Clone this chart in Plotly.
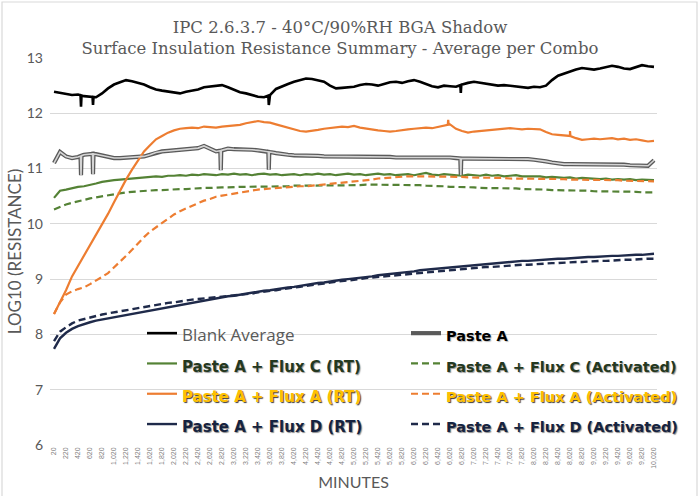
import numpy as np
import plotly.graph_objects as go

# ---------------- data ----------------
minutes = list(range(20, 10021, 100))
x_tick_minutes = list(range(20, 10021, 200))
x_tick_labels = [f"{m:,}" for m in x_tick_minutes]

blank_average = [
    12.39, 12.37, 12.36, 12.33, 12.34, 12.31, 12.30, 12.29, 12.36, 12.45,
    12.52, 12.56, 12.60, 12.58, 12.55, 12.52, 12.47, 12.43, 12.41, 12.39,
    12.37, 12.36, 12.39, 12.41, 12.43, 12.47, 12.48, 12.50, 12.51, 12.47,
    12.42, 12.38, 12.36, 12.33, 12.30, 12.29, 12.33, 12.44, 12.49, 12.53,
    12.57, 12.60, 12.63, 12.62, 12.60, 12.57, 12.50, 12.45, 12.46, 12.47,
    12.48, 12.51, 12.53, 12.52, 12.50, 12.53, 12.56, 12.57, 12.55, 12.58,
    12.60, 12.57, 12.53, 12.49, 12.47, 12.50, 12.49, 12.48, 12.52, 12.55,
    12.57, 12.55, 12.53, 12.52, 12.50, 12.51, 12.50, 12.48, 12.47, 12.46,
    12.48, 12.47, 12.50, 12.60, 12.68, 12.72, 12.76, 12.79, 12.82, 12.80,
    12.79, 12.81, 12.83, 12.86, 12.84, 12.81, 12.80, 12.84, 12.87, 12.85,
    12.84]
blank_spike_minutes = [470, 670, 3600, 6800]
blank_spike_values = [12.12, 12.15, 12.15, 12.37]

paste_a = [
    11.10, 11.30, 11.22, 11.19, 11.21, 11.25, 11.27, 11.26, 11.24, 11.21,
    11.19, 11.19, 11.20, 11.20, 11.21, 11.22, 11.25, 11.29, 11.31, 11.32,
    11.33, 11.33, 11.34, 11.35, 11.37, 11.41, 11.36, 11.31, 11.33, 11.36,
    11.35, 11.35, 11.35, 11.34, 11.33, 11.31, 11.30, 11.28, 11.26, 11.25,
    11.24, 11.24, 11.23, 11.23, 11.23, 11.22, 11.22, 11.22, 11.22, 11.22,
    11.22, 11.22, 11.21, 11.21, 11.21, 11.21, 11.21, 11.20, 11.20, 11.20,
    11.20, 11.20, 11.20, 11.20, 11.20, 11.21, 11.20, 11.19, 11.18, 11.18,
    11.18, 11.18, 11.18, 11.18, 11.17, 11.17, 11.17, 11.17, 11.17, 11.17,
    11.16, 11.15, 11.13, 11.11, 11.09, 11.08, 11.08, 11.08, 11.08, 11.07,
    11.07, 11.07, 11.07, 11.07, 11.07, 11.07, 11.06, 11.06, 11.06, 11.05,
    11.15]
paste_a_spike_minutes = [470, 670, 2800, 3600, 6800]
paste_a_spike_values = [10.88, 10.90, 10.97, 10.98, 10.88]

flux_c_rt = [
    10.47, 10.60, 10.62, 10.65, 10.67, 10.68, 10.70, 10.73, 10.76, 10.78,
    10.79, 10.80, 10.81, 10.83, 10.84, 10.85, 10.85, 10.86, 10.85, 10.87,
    10.87, 10.88, 10.87, 10.89, 10.88, 10.90, 10.89, 10.88, 10.90, 10.89,
    10.91, 10.89, 10.90, 10.88, 10.90, 10.91, 10.89, 10.90, 10.88, 10.89,
    10.90, 10.88, 10.90, 10.89, 10.91, 10.89, 10.90, 10.88, 10.90, 10.91,
    10.89, 10.90, 10.88, 10.89, 10.91, 10.89, 10.90, 10.88, 10.89, 10.90,
    10.88, 10.90, 10.92, 10.89, 10.88, 10.90, 10.89, 10.88, 10.87, 10.89,
    10.88, 10.87, 10.89, 10.87, 10.88, 10.86, 10.87, 10.88, 10.86, 10.86,
    10.85, 10.86, 10.84, 10.85, 10.84, 10.83, 10.84, 10.82, 10.83, 10.82,
    10.82, 10.81, 10.82, 10.80, 10.81, 10.80, 10.81, 10.79, 10.80, 10.79,
    10.79]

flux_c_act = [
    10.26, 10.31, 10.35, 10.38, 10.41, 10.43, 10.46, 10.48, 10.50, 10.52,
    10.53, 10.55, 10.57, 10.58, 10.59, 10.60, 10.60, 10.61, 10.61, 10.62,
    10.62, 10.63, 10.63, 10.64, 10.64, 10.65, 10.65, 10.66, 10.66, 10.66,
    10.67, 10.67, 10.67, 10.67, 10.68, 10.68, 10.68, 10.68, 10.68, 10.68,
    10.69, 10.69, 10.69, 10.69, 10.69, 10.69, 10.70, 10.70, 10.70, 10.70,
    10.70, 10.70, 10.71, 10.71, 10.71, 10.71, 10.70, 10.70, 10.70, 10.70,
    10.70, 10.70, 10.69, 10.69, 10.68, 10.68, 10.67, 10.67, 10.66, 10.66,
    10.66, 10.65, 10.65, 10.65, 10.64, 10.64, 10.64, 10.64, 10.63, 10.63,
    10.63, 10.62, 10.62, 10.61, 10.61, 10.61, 10.60, 10.60, 10.60, 10.60,
    10.59, 10.59, 10.59, 10.59, 10.58, 10.58, 10.58, 10.58, 10.57, 10.57,
    10.57]

flux_a_rt = [
    8.37, 8.58, 8.80, 9.05, 9.24, 9.41, 9.62, 9.80, 9.98, 10.18,
    10.39, 10.60, 10.80, 10.98, 11.15, 11.31, 11.42, 11.53, 11.59, 11.65,
    11.69, 11.72, 11.73, 11.74, 11.73, 11.76, 11.75, 11.74, 11.76, 11.77,
    11.78, 11.79, 11.82, 11.84, 11.86, 11.84, 11.83, 11.80, 11.77, 11.73,
    11.70, 11.68, 11.67, 11.68, 11.70, 11.72, 11.73, 11.74, 11.76, 11.75,
    11.77, 11.74, 11.72, 11.70, 11.69, 11.68, 11.67, 11.68, 11.70, 11.71,
    11.72, 11.73, 11.74, 11.73, 11.75, 11.78, 11.80, 11.72, 11.68, 11.65,
    11.67, 11.68, 11.69, 11.69, 11.70, 11.72, 11.73, 11.72, 11.71, 11.72,
    11.72, 11.71, 11.66, 11.62, 11.61, 11.60, 11.59, 11.55, 11.52, 11.53,
    11.54, 11.53, 11.54, 11.55, 11.53, 11.54, 11.52, 11.53, 11.51, 11.49,
    11.50]
flux_a_rt_spike_minutes = [6590, 8620]
flux_a_rt_spike_values = [11.88, 11.68]

flux_a_act = [
    8.37, 8.58, 8.72, 8.78, 8.82, 8.85, 8.91, 8.97, 9.04, 9.11,
    9.21, 9.31, 9.42, 9.53, 9.65, 9.76, 9.86, 9.94, 10.01, 10.10,
    10.17, 10.23, 10.28, 10.33, 10.37, 10.42, 10.45, 10.49, 10.51, 10.53,
    10.55, 10.57, 10.59, 10.61, 10.62, 10.63, 10.64, 10.65, 10.66, 10.66,
    10.67, 10.68, 10.68, 10.69, 10.70, 10.71, 10.72, 10.73, 10.74, 10.75,
    10.76, 10.78, 10.79, 10.80, 10.82, 10.83, 10.84, 10.85, 10.86, 10.86,
    10.86, 10.86, 10.86, 10.86, 10.86, 10.85, 10.85, 10.85, 10.85, 10.84,
    10.84, 10.84, 10.84, 10.83, 10.83, 10.83, 10.82, 10.82, 10.82, 10.82,
    10.82, 10.82, 10.81, 10.81, 10.81, 10.81, 10.80, 10.80, 10.80, 10.80,
    10.80, 10.79, 10.79, 10.79, 10.79, 10.78, 10.78, 10.78, 10.78, 10.77,
    10.77]

flux_d_rt = [
    7.74, 7.93, 8.03, 8.10, 8.15, 8.19, 8.22, 8.25, 8.27, 8.30,
    8.32, 8.34, 8.36, 8.38, 8.40, 8.42, 8.44, 8.46, 8.48, 8.50,
    8.52, 8.54, 8.56, 8.58, 8.60, 8.62, 8.64, 8.65, 8.67, 8.69,
    8.70, 8.72, 8.74, 8.75, 8.77, 8.79, 8.80, 8.82, 8.83, 8.85,
    8.86, 8.88, 8.89, 8.91, 8.93, 8.94, 8.96, 8.97, 8.99, 9.00,
    9.01, 9.03, 9.04, 9.05, 9.07, 9.08, 9.09, 9.10, 9.12, 9.13,
    9.14, 9.16, 9.17, 9.18, 9.19, 9.21, 9.22, 9.23, 9.24, 9.25,
    9.26, 9.27, 9.28, 9.29, 9.30, 9.31, 9.31, 9.32, 9.33, 9.33,
    9.34, 9.35, 9.35, 9.36, 9.37, 9.37, 9.38, 9.39, 9.39, 9.40,
    9.40, 9.41, 9.41, 9.42, 9.42, 9.43, 9.43, 9.44, 9.44, 9.45,
    9.46]

flux_d_act = [
    7.88, 8.05, 8.13, 8.20, 8.25, 8.28, 8.31, 8.33, 8.36, 8.38,
    8.40, 8.42, 8.44, 8.46, 8.47, 8.49, 8.51, 8.53, 8.55, 8.57,
    8.58, 8.60, 8.62, 8.63, 8.64, 8.65, 8.66, 8.67, 8.68, 8.69,
    8.70, 8.71, 8.73, 8.74, 8.76, 8.77, 8.79, 8.80, 8.82, 8.83,
    8.85, 8.86, 8.88, 8.89, 8.91, 8.92, 8.94, 8.95, 8.96, 8.98,
    8.99, 9.00, 9.02, 9.03, 9.04, 9.05, 9.07, 9.08, 9.09, 9.10,
    9.11, 9.12, 9.13, 9.14, 9.15, 9.16, 9.17, 9.18, 9.19, 9.19,
    9.20, 9.21, 9.22, 9.22, 9.23, 9.24, 9.24, 9.25, 9.26, 9.26,
    9.27, 9.27, 9.28, 9.29, 9.29, 9.30, 9.30, 9.31, 9.31, 9.32,
    9.32, 9.33, 9.33, 9.34, 9.34, 9.35, 9.35, 9.36, 9.36, 9.37,
    9.37]


def with_spikes(xs, ys, spike_x, spike_y, half=8):
    xs = np.asarray(xs, float)
    ys = np.asarray(ys, float)
    px, py = list(xs), list(ys)
    for t, v in zip(spike_x, spike_y):
        for tt in (t - half, t + half):
            px.append(tt)
            py.append(float(np.interp(tt, xs, ys)))
        px.append(t)
        py.append(v)
    order = np.argsort(px, kind="stable")
    return np.asarray(px)[order], np.asarray(py)[order]


# ---------------- figure ----------------
W, H = 700, 496
ML, MR, MT, MB = 50, 43, 58, 51

GRAY = "#595959"
C_GREEN = "#548235"
C_ORANGE = "#ED7D31"
C_NAVY = "#1F2A4A"


def lbl(text, color, shadow="#8a8a8a", bold=True, size=14.5, family="DejaVu Sans"):
    style = f"font-size:{size}px;color:{color};font-family:{family};"
    if shadow:
        style += f"text-shadow:1px 1px 1px {shadow};"
    inner = f'<span style="{style}">{text}</span>'
    return f"<b>{inner}</b>" if bold else inner


fig = go.Figure()

bx, by = with_spikes(minutes, blank_average, blank_spike_minutes, blank_spike_values)
fig.add_trace(go.Scatter(x=bx, y=by, mode="lines",
                         line=dict(color="#000000", width=2.6), legend="legend",
                         name=lbl("Blank Average", GRAY, shadow=None, bold=False, size=17, family="Open Sans")))

pxs, pys = with_spikes(minutes, paste_a, paste_a_spike_minutes, paste_a_spike_values)
fig.add_trace(go.Scatter(x=pxs, y=pys, mode="lines",
                         line=dict(color="#5a5a5a", width=4.2), legend="legend2",
                         legendgroup="pa",
                         name=lbl("Paste A", "#000000", shadow="#bbbbbb")))

fig.add_trace(go.Scatter(x=minutes, y=flux_c_rt, mode="lines",
                         line=dict(color=C_GREEN, width=2.2), legend="legend",
                         name=lbl("Paste A + Flux C (RT)", "#24381f", shadow="#9a9a9a", size=15)))
fig.add_trace(go.Scatter(x=minutes, y=flux_c_act, mode="lines",
                         line=dict(color=C_GREEN, width=2.2, dash="7px,4px"), legend="legend2",
                         name=lbl("Paste A + Flux C (Activated)", "#24381f", shadow="#9a9a9a")))

ax, ay = with_spikes(minutes, flux_a_rt, flux_a_rt_spike_minutes, flux_a_rt_spike_values)
fig.add_trace(go.Scatter(x=ax, y=ay, mode="lines",
                         line=dict(color=C_ORANGE, width=2.2), legend="legend",
                         name=lbl("Paste A + Flux A (RT)", "#FFC000", shadow="#3a3a3a", size=15)))
fig.add_trace(go.Scatter(x=minutes, y=flux_a_act, mode="lines",
                         line=dict(color=C_ORANGE, width=2.2, dash="7px,4px"), legend="legend2",
                         name=lbl("Paste A + Flux A (Activated)", "#FFC000", shadow="#3a3a3a")))

fig.add_trace(go.Scatter(x=minutes, y=flux_d_rt, mode="lines",
                         line=dict(color=C_NAVY, width=2.4), legend="legend",
                         name=lbl("Paste A + Flux D (RT)", "#16233f", shadow="#8a8a8a", size=15)))
fig.add_trace(go.Scatter(x=minutes, y=flux_d_act, mode="lines",
                         line=dict(color=C_NAVY, width=2.4, dash="7px,4px"), legend="legend2",
                         name=lbl("Paste A + Flux D (Activated)", "#16233f", shadow="#8a8a8a")))

# light centre of the Paste A double line (drawn on top, no legend entry)
fig.add_trace(go.Scatter(x=pxs, y=pys, mode="lines",
                         line=dict(color="#d4d4d4", width=1.6),
                         legendgroup="pa", showlegend=False, hoverinfo="skip"))

pw = W - ML - MR
ph = H - MT - MB
fig.add_shape(type="rect", xref="paper", yref="paper",
              x0=(2 - ML) / pw, x1=(W - 3 - ML) / pw,
              y0=(MB - (H - 3)) / ph + 0, y1=1 + (MT - 2) / ph,
              line=dict(color="#d9d9d9", width=1.2), layer="below")

legend_common = dict(
    orientation="v", xanchor="left", yanchor="top",
    font=dict(family="DejaVu Sans", size=21, color="#000000"),
    bgcolor="rgba(0,0,0,0)", borderwidth=0, traceorder="normal",
    itemwidth=30, tracegroupgap=0,
)

fig.update_layout(
    width=W, height=H,
    margin=dict(l=ML, r=MR, t=MT, b=MB, autoexpand=False),
    paper_bgcolor="white", plot_bgcolor="white",
    title=dict(
        text="IPC 2.6.3.7 - 40°C/90%RH BGA Shadow<br>Surface Insulation Resistance Summary - Average per Combo",
        x=340 / W, xref="container", xanchor="center",
        y=1 - 33 / H, yref="container", yanchor="top",
        font=dict(family="DejaVu Serif", size=16.5, color=GRAY)),
    xaxis=dict(
        range=[-47, 10070], automargin=False,
        tickmode="array", tickvals=x_tick_minutes, ticktext=x_tick_labels,
        tickangle=-90, tickfont=dict(family="Liberation Sans", size=7, color="#7f7f7f"),
        showgrid=False, zeroline=False, showline=False, ticks="",
        title=dict(text="MINUTES", font=dict(family="Lato", size=16, color=GRAY), standoff=8)),
    yaxis=dict(
        range=[6, 13], dtick=1, tick0=6, automargin=False,
        tickfont=dict(family="Lato", size=14, color=GRAY), ticklabelstandoff=6,
        gridcolor="#d9d9d9", gridwidth=1, zeroline=False, showline=False, ticks="",
        title=dict(text="LOG10 (RESISTANCE)", font=dict(family="Lato", size=17, color=GRAY), standoff=0)),
    legend=dict(x=(142 - ML) / pw, y=(H - MB - 313) / ph, **legend_common),
    legend2=dict(x=(406 - ML) / pw, y=(H - MB - 313) / ph, **legend_common),
    showlegend=True,
)

fig.write_html("out.html", config={"displayModeBar": False},
               post_script="document.body.style.margin='0px';")
